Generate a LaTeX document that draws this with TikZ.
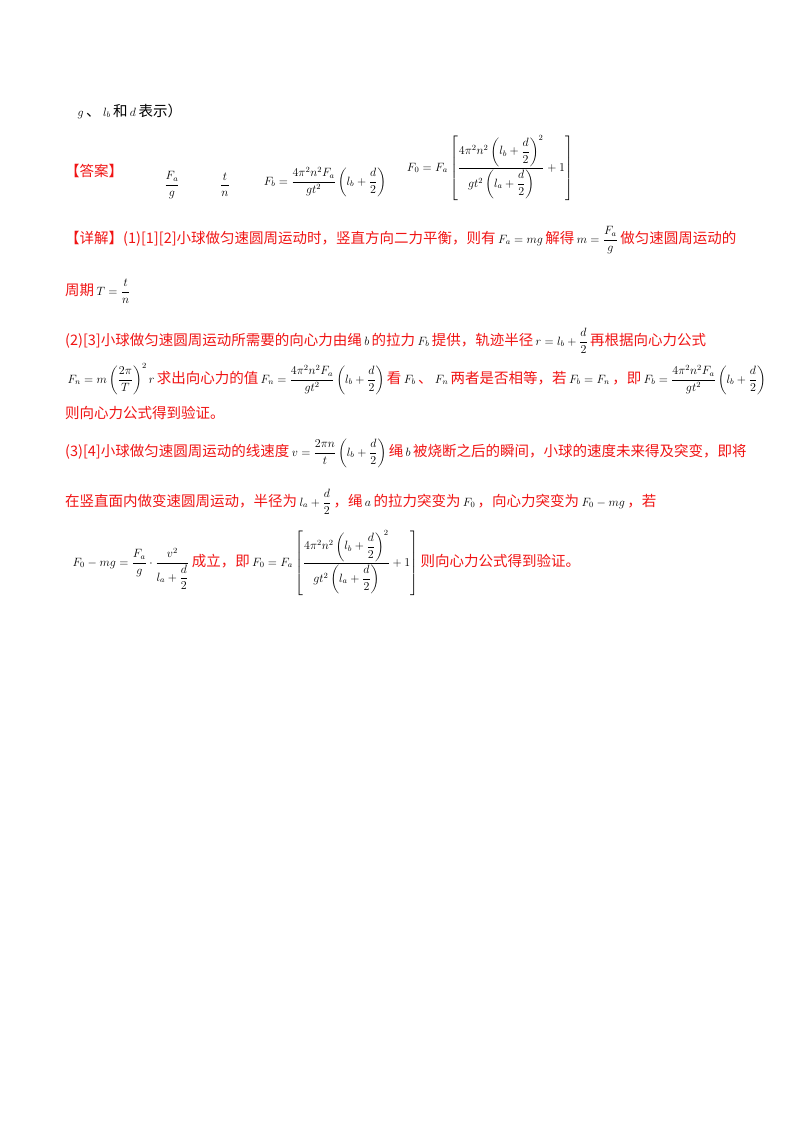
\documentclass[tikz,border=0pt]{standalone}
\usepackage{amsmath}
\usepackage{fontspec}
\newfontfamily\cjk{Noto Sans CJK SC}
\definecolor{ansred}{RGB}{240,20,20}
\newcommand{\mth}[1]{\,{\color{black}\fontsize{12}{14}\selectfont$#1$}\,}
\begin{document}
\begin{tikzpicture}[x=1pt,y=-1pt,
  line/.style={anchor=base west,inner sep=0pt,font=\cjk\fontsize{14.5}{16}\selectfont},
  red/.style={line,text=ansred}]
\useasboundingbox (0,0) rectangle (800,1132);
\node[line] (l0) at (75,116) {\mth{g}、\mth{l_b}和\mth{d}表示）};
\node[red] (ans) at (65,176) {【答案】};
\node[line,anchor=center] (a1) at (172,185) {\mth{\dfrac{F_a}{g}}};
\node[line,anchor=center] (a2) at (225,185) {\mth{\dfrac{t}{n}}};
\node[line,anchor=center] (a3) at (325,182) {\mth{F_b=\dfrac{4\pi^2n^2F_a}{gt^2}\left(l_b+\dfrac{d}{2}\right)}};
\node[line,anchor=center] (a4) at (490,168) {\mth{F_0=F_a\left[\dfrac{4\pi^2n^2\left(l_b+\dfrac{d}{2}\right)^2}{gt^2\left(l_a+\dfrac{d}{2}\right)}+1\right]}};
\node[red] (d1) at (65,243) {【详解】(1)[1][2]小球做匀速圆周运动时，竖直方向二力平衡，则有\mth{F_a=mg}解得\mth{m=\dfrac{F_a}{g}}做匀速圆周运动的};
\node[red] (d2) at (65,295) {周期\mth{T=\dfrac{t}{n}}};
\node[red] (d3) at (65,345) {(2)[3]小球做匀速圆周运动所需要的向心力由绳\mth{b}的拉力\mth{F_b}提供，轨迹半径\mth{r=l_b+\dfrac{d}{2}}再根据向心力公式};
\node[red] (d4) at (65,383) {\mth{F_n=m\left(\dfrac{2\pi}{T}\right)^2r}求出向心力的值\mth{F_n=\dfrac{4\pi^2n^2F_a}{gt^2}\left(l_b+\dfrac{d}{2}\right)}看\mth{F_b}、\mth{F_n}两者是否相等，若\mth{F_b=F_n}，即\mth{F_b=\dfrac{4\pi^2n^2F_a}{gt^2}\left(l_b+\dfrac{d}{2}\right)}};
\node[red] (d5) at (65,418) {则向心力公式得到验证。};
\node[red] (d6) at (65,456) {(3)[4]小球做匀速圆周运动的线速度\mth{v=\dfrac{2\pi n}{t}\left(l_b+\dfrac{d}{2}\right)}绳\mth{b}被烧断之后的瞬间，小球的速度未来得及突变，即将};
\node[red] (d7) at (65,506) {在竖直面内做变速圆周运动，半径为\mth{l_a+\dfrac{d}{2}}，绳\mth{a}的拉力突变为\mth{F_0}，向心力突变为\mth{F_0-mg}，若};
\node[red] (d8) at (70,566) {\mth{F_0-mg=\dfrac{F_a}{g}\cdot\dfrac{v^2}{l_a+\dfrac{d}{2}}}成立，即\mth{F_0=F_a\left[\dfrac{4\pi^2n^2\left(l_b+\dfrac{d}{2}\right)^2}{gt^2\left(l_a+\dfrac{d}{2}\right)}+1\right]}则向心力公式得到验证。};
\end{tikzpicture}
\end{document}
